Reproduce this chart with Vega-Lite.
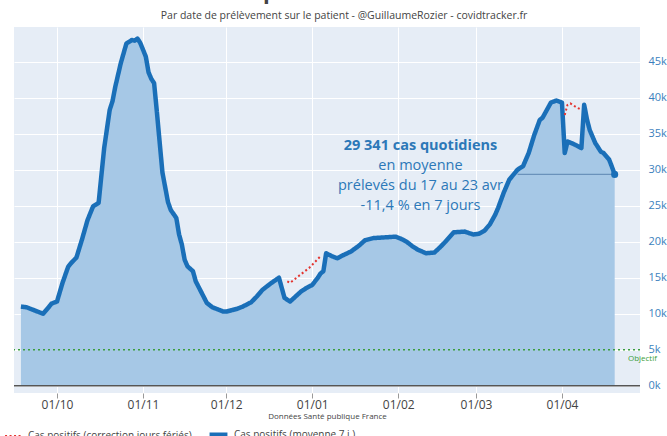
{
  "$schema": "https://vega.github.io/schema/vega-lite/v6.json",
  "width": 626,
  "height": 366,
  "autosize": {"type": "none"},
  "padding": {"left": 14, "top": 27, "right": 27, "bottom": 43},
  "background": "white",
  "config": {
    "view": {"fill": "#e6edf6", "stroke": null},
    "font": "Open Sans"
  },
  "title": {
    "text": "Cas positifs au Covid19",
    "subtitle": "Par date de prélèvement sur le patient - @GuillaumeRozier - covidtracker.fr",
    "fontSize": 22,
    "fontWeight": "bold",
    "color": "#444444",
    "subtitleFontSize": 10.5,
    "subtitleColor": "#444444",
    "subtitlePadding": 7,
    "anchor": "middle",
    "offset": 5,
    "dx": 17
  },
  "datasets": {
    "lines": [
      {"date": "2020-09-18", "v": 11000, "s": "Cas positifs (moyenne 7 j.)"},
      {"date": "2020-09-20", "v": 10900, "s": "Cas positifs (moyenne 7 j.)"},
      {"date": "2020-09-22", "v": 10600, "s": "Cas positifs (moyenne 7 j.)"},
      {"date": "2020-09-24", "v": 10300, "s": "Cas positifs (moyenne 7 j.)"},
      {"date": "2020-09-26", "v": 10000, "s": "Cas positifs (moyenne 7 j.)"},
      {"date": "2020-09-28", "v": 10900, "s": "Cas positifs (moyenne 7 j.)"},
      {"date": "2020-09-29", "v": 11400, "s": "Cas positifs (moyenne 7 j.)"},
      {"date": "2020-10-01", "v": 11700, "s": "Cas positifs (moyenne 7 j.)"},
      {"date": "2020-10-03", "v": 14300, "s": "Cas positifs (moyenne 7 j.)"},
      {"date": "2020-10-05", "v": 16500, "s": "Cas positifs (moyenne 7 j.)"},
      {"date": "2020-10-06", "v": 17000, "s": "Cas positifs (moyenne 7 j.)"},
      {"date": "2020-10-08", "v": 17800, "s": "Cas positifs (moyenne 7 j.)"},
      {"date": "2020-10-10", "v": 20300, "s": "Cas positifs (moyenne 7 j.)"},
      {"date": "2020-10-12", "v": 23000, "s": "Cas positifs (moyenne 7 j.)"},
      {"date": "2020-10-14", "v": 24900, "s": "Cas positifs (moyenne 7 j.)"},
      {"date": "2020-10-16", "v": 25400, "s": "Cas positifs (moyenne 7 j.)"},
      {"date": "2020-10-18", "v": 33000, "s": "Cas positifs (moyenne 7 j.)"},
      {"date": "2020-10-20", "v": 38300, "s": "Cas positifs (moyenne 7 j.)"},
      {"date": "2020-10-21", "v": 39500, "s": "Cas positifs (moyenne 7 j.)"},
      {"date": "2020-10-22", "v": 41500, "s": "Cas positifs (moyenne 7 j.)"},
      {"date": "2020-10-24", "v": 44800, "s": "Cas positifs (moyenne 7 j.)"},
      {"date": "2020-10-26", "v": 47500, "s": "Cas positifs (moyenne 7 j.)"},
      {"date": "2020-10-28", "v": 48000, "s": "Cas positifs (moyenne 7 j.)"},
      {"date": "2020-10-29", "v": 47900, "s": "Cas positifs (moyenne 7 j.)"},
      {"date": "2020-10-30", "v": 48200, "s": "Cas positifs (moyenne 7 j.)"},
      {"date": "2020-10-31", "v": 47600, "s": "Cas positifs (moyenne 7 j.)"},
      {"date": "2020-11-02", "v": 45700, "s": "Cas positifs (moyenne 7 j.)"},
      {"date": "2020-11-03", "v": 43500, "s": "Cas positifs (moyenne 7 j.)"},
      {"date": "2020-11-04", "v": 42600, "s": "Cas positifs (moyenne 7 j.)"},
      {"date": "2020-11-05", "v": 42000, "s": "Cas positifs (moyenne 7 j.)"},
      {"date": "2020-11-06", "v": 38000, "s": "Cas positifs (moyenne 7 j.)"},
      {"date": "2020-11-08", "v": 29600, "s": "Cas positifs (moyenne 7 j.)"},
      {"date": "2020-11-10", "v": 25500, "s": "Cas positifs (moyenne 7 j.)"},
      {"date": "2020-11-11", "v": 24400, "s": "Cas positifs (moyenne 7 j.)"},
      {"date": "2020-11-13", "v": 23300, "s": "Cas positifs (moyenne 7 j.)"},
      {"date": "2020-11-14", "v": 21000, "s": "Cas positifs (moyenne 7 j.)"},
      {"date": "2020-11-15", "v": 19600, "s": "Cas positifs (moyenne 7 j.)"},
      {"date": "2020-11-16", "v": 17500, "s": "Cas positifs (moyenne 7 j.)"},
      {"date": "2020-11-17", "v": 16600, "s": "Cas positifs (moyenne 7 j.)"},
      {"date": "2020-11-19", "v": 15900, "s": "Cas positifs (moyenne 7 j.)"},
      {"date": "2020-11-20", "v": 14500, "s": "Cas positifs (moyenne 7 j.)"},
      {"date": "2020-11-22", "v": 13000, "s": "Cas positifs (moyenne 7 j.)"},
      {"date": "2020-11-24", "v": 11500, "s": "Cas positifs (moyenne 7 j.)"},
      {"date": "2020-11-26", "v": 10900, "s": "Cas positifs (moyenne 7 j.)"},
      {"date": "2020-11-28", "v": 10600, "s": "Cas positifs (moyenne 7 j.)"},
      {"date": "2020-11-30", "v": 10300, "s": "Cas positifs (moyenne 7 j.)"},
      {"date": "2020-12-01", "v": 10300, "s": "Cas positifs (moyenne 7 j.)"},
      {"date": "2020-12-03", "v": 10500, "s": "Cas positifs (moyenne 7 j.)"},
      {"date": "2020-12-05", "v": 10700, "s": "Cas positifs (moyenne 7 j.)"},
      {"date": "2020-12-07", "v": 11000, "s": "Cas positifs (moyenne 7 j.)"},
      {"date": "2020-12-10", "v": 11600, "s": "Cas positifs (moyenne 7 j.)"},
      {"date": "2020-12-12", "v": 12400, "s": "Cas positifs (moyenne 7 j.)"},
      {"date": "2020-12-14", "v": 13300, "s": "Cas positifs (moyenne 7 j.)"},
      {"date": "2020-12-17", "v": 14200, "s": "Cas positifs (moyenne 7 j.)"},
      {"date": "2020-12-20", "v": 15000, "s": "Cas positifs (moyenne 7 j.)"},
      {"date": "2020-12-22", "v": 12200, "s": "Cas positifs (moyenne 7 j.)"},
      {"date": "2020-12-24", "v": 11700, "s": "Cas positifs (moyenne 7 j.)"},
      {"date": "2020-12-26", "v": 12400, "s": "Cas positifs (moyenne 7 j.)"},
      {"date": "2020-12-28", "v": 13100, "s": "Cas positifs (moyenne 7 j.)"},
      {"date": "2020-12-30", "v": 13600, "s": "Cas positifs (moyenne 7 j.)"},
      {"date": "2021-01-01", "v": 14000, "s": "Cas positifs (moyenne 7 j.)"},
      {"date": "2021-01-03", "v": 15000, "s": "Cas positifs (moyenne 7 j.)"},
      {"date": "2021-01-04", "v": 15600, "s": "Cas positifs (moyenne 7 j.)"},
      {"date": "2021-01-05", "v": 15900, "s": "Cas positifs (moyenne 7 j.)"},
      {"date": "2021-01-06", "v": 18400, "s": "Cas positifs (moyenne 7 j.)"},
      {"date": "2021-01-08", "v": 18000, "s": "Cas positifs (moyenne 7 j.)"},
      {"date": "2021-01-10", "v": 17700, "s": "Cas positifs (moyenne 7 j.)"},
      {"date": "2021-01-12", "v": 18100, "s": "Cas positifs (moyenne 7 j.)"},
      {"date": "2021-01-15", "v": 18650, "s": "Cas positifs (moyenne 7 j.)"},
      {"date": "2021-01-18", "v": 19500, "s": "Cas positifs (moyenne 7 j.)"},
      {"date": "2021-01-20", "v": 20200, "s": "Cas positifs (moyenne 7 j.)"},
      {"date": "2021-01-23", "v": 20500, "s": "Cas positifs (moyenne 7 j.)"},
      {"date": "2021-01-27", "v": 20600, "s": "Cas positifs (moyenne 7 j.)"},
      {"date": "2021-01-31", "v": 20700, "s": "Cas positifs (moyenne 7 j.)"},
      {"date": "2021-02-02", "v": 20400, "s": "Cas positifs (moyenne 7 j.)"},
      {"date": "2021-02-04", "v": 20000, "s": "Cas positifs (moyenne 7 j.)"},
      {"date": "2021-02-06", "v": 19400, "s": "Cas positifs (moyenne 7 j.)"},
      {"date": "2021-02-08", "v": 18900, "s": "Cas positifs (moyenne 7 j.)"},
      {"date": "2021-02-11", "v": 18400, "s": "Cas positifs (moyenne 7 j.)"},
      {"date": "2021-02-14", "v": 18500, "s": "Cas positifs (moyenne 7 j.)"},
      {"date": "2021-02-16", "v": 19200, "s": "Cas positifs (moyenne 7 j.)"},
      {"date": "2021-02-18", "v": 20000, "s": "Cas positifs (moyenne 7 j.)"},
      {"date": "2021-02-21", "v": 21300, "s": "Cas positifs (moyenne 7 j.)"},
      {"date": "2021-02-25", "v": 21400, "s": "Cas positifs (moyenne 7 j.)"},
      {"date": "2021-02-28", "v": 21000, "s": "Cas positifs (moyenne 7 j.)"},
      {"date": "2021-03-02", "v": 21100, "s": "Cas positifs (moyenne 7 j.)"},
      {"date": "2021-03-04", "v": 21500, "s": "Cas positifs (moyenne 7 j.)"},
      {"date": "2021-03-06", "v": 22400, "s": "Cas positifs (moyenne 7 j.)"},
      {"date": "2021-03-08", "v": 23800, "s": "Cas positifs (moyenne 7 j.)"},
      {"date": "2021-03-09", "v": 24700, "s": "Cas positifs (moyenne 7 j.)"},
      {"date": "2021-03-11", "v": 26800, "s": "Cas positifs (moyenne 7 j.)"},
      {"date": "2021-03-13", "v": 28600, "s": "Cas positifs (moyenne 7 j.)"},
      {"date": "2021-03-16", "v": 30000, "s": "Cas positifs (moyenne 7 j.)"},
      {"date": "2021-03-18", "v": 30500, "s": "Cas positifs (moyenne 7 j.)"},
      {"date": "2021-03-20", "v": 32300, "s": "Cas positifs (moyenne 7 j.)"},
      {"date": "2021-03-22", "v": 34800, "s": "Cas positifs (moyenne 7 j.)"},
      {"date": "2021-03-24", "v": 36900, "s": "Cas positifs (moyenne 7 j.)"},
      {"date": "2021-03-25", "v": 37200, "s": "Cas positifs (moyenne 7 j.)"},
      {"date": "2021-03-28", "v": 39300, "s": "Cas positifs (moyenne 7 j.)"},
      {"date": "2021-03-30", "v": 39600, "s": "Cas positifs (moyenne 7 j.)"},
      {"date": "2021-04-01", "v": 39300, "s": "Cas positifs (moyenne 7 j.)"},
      {"date": "2021-04-02", "v": 32300, "s": "Cas positifs (moyenne 7 j.)"},
      {"date": "2021-04-03", "v": 33900, "s": "Cas positifs (moyenne 7 j.)"},
      {"date": "2021-04-05", "v": 33600, "s": "Cas positifs (moyenne 7 j.)"},
      {"date": "2021-04-06", "v": 33400, "s": "Cas positifs (moyenne 7 j.)"},
      {"date": "2021-04-08", "v": 33000, "s": "Cas positifs (moyenne 7 j.)"},
      {"date": "2021-04-09", "v": 39000, "s": "Cas positifs (moyenne 7 j.)"},
      {"date": "2021-04-10", "v": 37000, "s": "Cas positifs (moyenne 7 j.)"},
      {"date": "2021-04-11", "v": 35500, "s": "Cas positifs (moyenne 7 j.)"},
      {"date": "2021-04-13", "v": 33700, "s": "Cas positifs (moyenne 7 j.)"},
      {"date": "2021-04-15", "v": 32500, "s": "Cas positifs (moyenne 7 j.)"},
      {"date": "2021-04-16", "v": 32300, "s": "Cas positifs (moyenne 7 j.)"},
      {"date": "2021-04-18", "v": 31400, "s": "Cas positifs (moyenne 7 j.)"},
      {"date": "2021-04-19", "v": 30400, "s": "Cas positifs (moyenne 7 j.)"},
      {"date": "2021-04-20", "v": 29341, "s": "Cas positifs (moyenne 7 j.)"},
      {"date": "2020-12-23", "v": 14500, "s": "Cas positifs (correction jours fériés)", "g": "a"},
      {"date": "2020-12-24", "v": 14300, "s": "Cas positifs (correction jours fériés)", "g": "a"},
      {"date": "2020-12-27", "v": 15200, "s": "Cas positifs (correction jours fériés)", "g": "a"},
      {"date": "2020-12-31", "v": 16400, "s": "Cas positifs (correction jours fériés)", "g": "a"},
      {"date": "2021-01-04", "v": 18000, "s": "Cas positifs (correction jours fériés)", "g": "a"},
      {"date": "2021-04-02", "v": 37600, "s": "Cas positifs (correction jours fériés)", "g": "b"},
      {"date": "2021-04-03", "v": 39000, "s": "Cas positifs (correction jours fériés)", "g": "b"},
      {"date": "2021-04-04", "v": 39200, "s": "Cas positifs (correction jours fériés)", "g": "b"},
      {"date": "2021-04-06", "v": 38700, "s": "Cas positifs (correction jours fériés)", "g": "b"},
      {"date": "2021-04-07", "v": 38500, "s": "Cas positifs (correction jours fériés)", "g": "b"},
      {"date": "2021-04-08", "v": 38300, "s": "Cas positifs (correction jours fériés)", "g": "b"}
    ]
  },
  "layer": [
    {
      "data": {"name": "lines"},
      "transform": [{"filter": "datum.s === 'Cas positifs (moyenne 7 j.)'"}],
      "mark": {"type": "area", "color": "#a6c8e6", "opacity": 1},
      "encoding": {
        "x": {
          "field": "date", "type": "temporal",
          "scale": {"domain": [{"year": 2020, "month": 9, "date": 15, "hours": 12}, {"year": 2021, "month": 4, "date": 29, "hours": 3}]},
          "axis": {
            "values": [
              {"year": 2020, "month": 10, "date": 1},
              {"year": 2020, "month": 11, "date": 1},
              {"year": 2020, "month": 12, "date": 1},
              {"year": 2021, "month": 1, "date": 1},
              {"year": 2021, "month": 2, "date": 1},
              {"year": 2021, "month": 3, "date": 1},
              {"year": 2021, "month": 4, "date": 1}
            ],
            "format": "%d/%m",
            "labelFontSize": 12,
            "labelColor": "#444444",
            "labelPadding": 1,
            "tickColor": "#999999",
            "tickSize": 5,
            "domain": false,
            "grid": true,
            "gridColor": "white",
            "gridWidth": 1,
            "title": "Données Santé publique France",
            "titleFontSize": 8,
            "titleFontWeight": "normal",
            "titleColor": "#444444",
            "titlePadding": 2
          }
        },
        "y": {
          "field": "v", "type": "quantitative",
          "scale": {"domain": [-1000, 49800], "nice": false, "zero": false},
          "axis": {
            "orient": "right",
            "values": [0, 5000, 10000, 15000, 20000, 25000, 30000, 35000, 40000, 45000],
            "format": "~s",
            "labelFontSize": 11,
            "labelColor": "#3b7fbd",
            "labelPadding": 8,
            "ticks": false,
            "domain": false,
            "grid": true,
            "gridColor": "white",
            "gridWidth": 1,
            "title": null
          }
        },
        "y2": {"datum": 0}
      }
    },
    {
      "data": {"values": [{"v": 0}]},
      "mark": {"type": "rule", "color": "#555555", "strokeWidth": 1.5},
      "encoding": {"y": {"field": "v", "type": "quantitative"}}
    },
    {
      "data": {"values": [{"v": 5000}]},
      "mark": {"type": "rule", "color": "#3c9e3c", "strokeWidth": 1.5, "strokeDash": [2, 3]},
      "encoding": {"y": {"field": "v", "type": "quantitative"}}
    },
    {
      "data": {"values": [{"date": "2021-03-16", "date2": "2021-04-20", "v": 29341}]},
      "mark": {"type": "rule", "color": "#6a92bb", "strokeWidth": 1.2},
      "encoding": {
        "x": {"field": "date", "type": "temporal"},
        "x2": {"field": "date2"},
        "y": {"field": "v", "type": "quantitative"}
      }
    },
    {
      "data": {"name": "lines"},
      "mark": {"type": "line", "strokeJoin": "round", "strokeCap": "butt"},
      "encoding": {
        "x": {"field": "date", "type": "temporal"},
        "y": {"field": "v", "type": "quantitative"},
        "detail": {"field": "g"},
        "color": {
          "field": "s", "type": "nominal",
          "scale": {"domain": ["Cas positifs (correction jours fériés)", "Cas positifs (moyenne 7 j.)"], "range": ["#e3342f", "#1a6fb8"]},
          "legend": {
            "orient": "none",
            "legendX": -10,
            "legendY": 396,
            "direction": "horizontal",
            "title": null,
            "labelFontSize": 10,
            "labelColor": "#444444",
            "labelLimit": 400,
            "symbolType": "stroke",
            "symbolSize": 320,
            "labelOffset": 4,
            "columnPadding": 8,
            "encode": {
              "symbols": {
                "update": {
                  "strokeWidth": {"signal": "datum.value === 'Cas positifs (moyenne 7 j.)' ? 5 : 2"}
                }
              }
            }
          }
        },
        "strokeDash": {
          "field": "s", "type": "nominal",
          "scale": {"domain": ["Cas positifs (correction jours fériés)", "Cas positifs (moyenne 7 j.)"], "range": [[2, 2.5], [1, 0]]}
        },
        "strokeWidth": {
          "field": "s", "type": "nominal",
          "scale": {"domain": ["Cas positifs (correction jours fériés)", "Cas positifs (moyenne 7 j.)"], "range": [2, 4.5]}
        }
      }
    },
    {
      "data": {"values": [{"date": "2021-04-20", "v": 29341}]},
      "mark": {"type": "circle", "color": "#1a6fb8", "size": 50, "opacity": 1},
      "encoding": {
        "x": {"field": "date", "type": "temporal"},
        "y": {"field": "v", "type": "quantitative"}
      }
    },
    {
      "data": {"values": [{"date": "2021-02-09", "v": 33300, "t": "29 341 cas quotidiens"}]},
      "mark": {"type": "text", "fontSize": 14.5, "fontWeight": "bold", "color": "#2c78b8", "align": "center", "baseline": "middle"},
      "encoding": {
        "x": {"field": "date", "type": "temporal"},
        "y": {"field": "v", "type": "quantitative"},
        "text": {"field": "t"}
      }
    },
    {
      "data": {"values": [
        {"date": "2021-02-09", "v": 30460, "t": "en moyenne"},
        {"date": "2021-02-09", "v": 27680, "t": "prélevés du 17 au 23 avr"},
        {"date": "2021-02-09", "v": 24900, "t": "-11,4 % en 7 jours"}
      ]},
      "mark": {"type": "text", "fontSize": 14.5, "color": "#2c78b8", "align": "center", "baseline": "middle"},
      "encoding": {
        "x": {"field": "date", "type": "temporal"},
        "y": {"field": "v", "type": "quantitative"},
        "text": {"field": "t"}
      }
    },
    {
      "data": {"values": [{"date": "2021-04-30", "v": 3700, "t": "Objectif"}]},
      "mark": {"type": "text", "fontSize": 8, "color": "#3c9e3c", "align": "center", "baseline": "middle"},
      "encoding": {
        "x": {"field": "date", "type": "temporal"},
        "y": {"field": "v", "type": "quantitative"},
        "text": {"field": "t"}
      }
    }
  ]
}
